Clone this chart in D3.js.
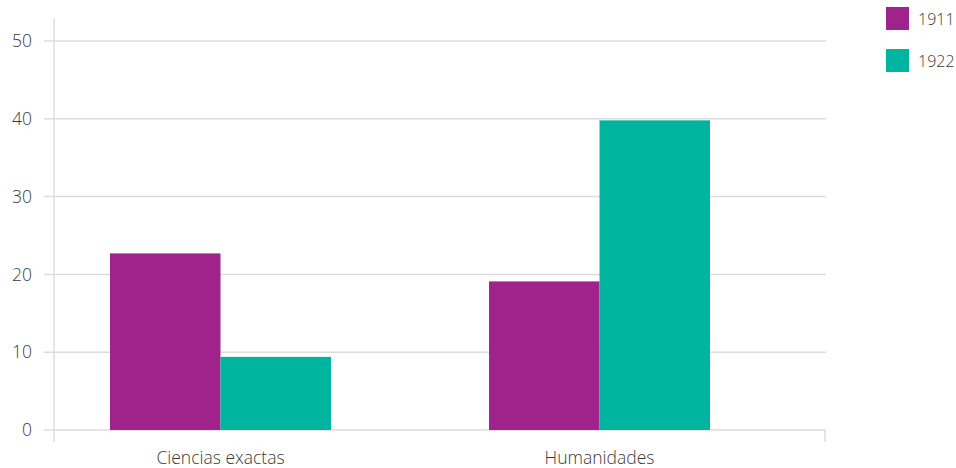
<!DOCTYPE html>
<html>
<head>
<meta charset="utf-8">
<script src="https://cdn.jsdelivr.net/npm/d3@7"></script>
<style>
  body { margin: 0; background: #fff; }
  text { font-family: "Open Sans", "Noto Sans", sans-serif; font-weight: 300; fill: #3a3a3a; }
</style>
</head>
<body>
<script>
// ---------------- data ----------------
var categories = ["Ciencias exactas", "Humanidades"];
var years = ["1911", "1922"];
var values1911 = [22.7, 19.1];
var values1922 = [9.4, 39.8];
var yTicks = [0, 10, 20, 30, 40, 50];
var colors = ["#a0228b", "#00b5a0"];

var series = [values1911, values1922];

var svg = d3.select("body")
     .append("svg")
     .attr("width", 956)
     .attr("height", 468);

// ---------------- scales ----------------
var y = d3.scaleLinear().domain([0, 50]).range([430, 41]);

var x0 = d3.scaleBand()
     .domain(categories)
     .range([110, 710])
     .paddingInner(0.417)
     .paddingOuter(0);

var x1 = d3.scaleBand()
     .domain(years)
     .range([0, x0.bandwidth()]);

// ---------------- grid + y labels ----------------
svg.append("g")
     .selectAll("line")
     .data(yTicks)
     .enter()
     .append("line")
     .attr("x1", 44)
     .attr("x2", 826)
     .attr("y1", function (d) { return y(d); })
     .attr("y2", function (d) { return y(d); })
     .style("stroke", "#dcdcdc")
     .style("stroke-width", 1.5);

svg.append("g")
     .selectAll("text")
     .data(yTicks)
     .enter()
     .append("text")
     .text(function (d) { return d; })
     .attr("x", 32)
     .attr("y", function (d) { return y(d); })
     .attr("dy", "0.35em")
     .attr("text-anchor", "end")
     .style("font-size", "17.5px");

// y axis line
svg.append("line")
     .attr("x1", 54).attr("x2", 54)
     .attr("y1", 18).attr("y2", 442)
     .style("stroke", "#dcdcdc")
     .style("stroke-width", 1.5);

// right end tick of x axis
svg.append("line")
     .attr("x1", 825).attr("x2", 825)
     .attr("y1", 430).attr("y2", 442)
     .style("stroke", "#dcdcdc")
     .style("stroke-width", 1.5);

// ---------------- bars ----------------
var groups = svg.selectAll("g.cat")
     .data(categories)
     .enter()
     .append("g")
     .attr("class", "cat")
     .attr("transform", function (d) { return "translate(" + x0(d) + ",0)"; });

groups.selectAll("rect")
     .data(function (d, i) {
          return years.map(function (yr, j) { return { year: yr, value: series[j][i], k: j }; });
     })
     .enter()
     .append("rect")
     .attr("x", function (d) { return x1(d.year); })
     .attr("width", x1.bandwidth())
     .attr("y", function (d) { return y(d.value); })
     .attr("height", function (d) { return y(0) - y(d.value); })
     .style("fill", function (d) { return colors[d.k]; });

// category labels
svg.append("g")
     .selectAll("text")
     .data(categories)
     .enter()
     .append("text")
     .text(function (d) { return d; })
     .attr("x", function (d) { return x0(d) + x0.bandwidth() / 2; })
     .attr("y", 464)
     .attr("text-anchor", "middle")
     .style("font-size", "17.5px");

// ---------------- legend ----------------
var legend = svg.append("g")
     .selectAll("g")
     .data(years)
     .enter()
     .append("g")
     .attr("transform", function (d, i) { return "translate(886," + (7 + i * 42) + ")"; });

legend.append("rect")
     .attr("width", 23)
     .attr("height", 23)
     .style("fill", function (d, i) { return colors[i]; });

legend.append("text")
     .text(function (d) { return d; })
     .attr("x", 32)
     .attr("y", 12)
     .attr("dy", "0.35em")
     .style("font-size", "16px");
</script>
</body>
</html>
